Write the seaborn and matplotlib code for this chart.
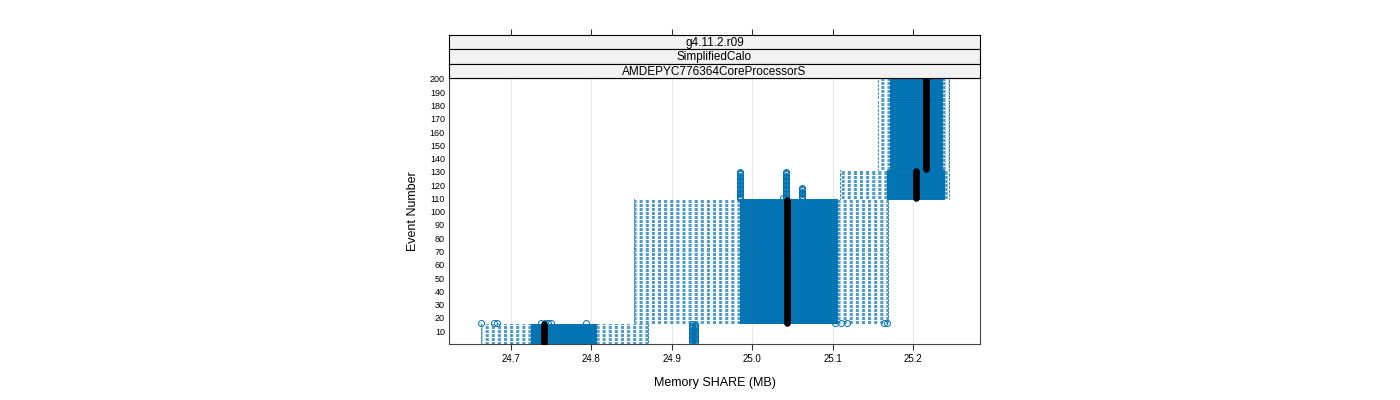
import matplotlib
matplotlib.use("Agg")
import matplotlib.pyplot as plt
import seaborn as sns

# segments of consecutive events sharing the same box summary (MB)
seg_first = [1, 16, 17, 110, 132]
seg_last = [15, 16, 109, 131, 200]
seg_whislo = [24.663, 24.853, 24.853, 25.109, 25.156]
seg_q1 = [24.725, 24.985, 24.985, 25.168, 25.171]
seg_med = [24.741, 25.043, 25.043, 25.204, 25.216]
seg_q3 = [24.806, 25.105, 25.105, 25.238, 25.236]
seg_whishi = [24.870, 25.169, 25.169, 25.245, 25.245]

# outliers for event ranges
flier_first = [1, 16, 110, 110, 110]
flier_last = [15, 16, 130, 118, 110]
flier_values = [
    [24.925, 24.9285],
    [24.663, 24.679, 24.683, 24.737, 24.742, 24.746, 24.750, 24.793,
     25.103, 25.110, 25.118, 25.164, 25.168],
    [24.985, 25.042],
    [25.062],
    [25.038],
]

x_ticks = [24.7, 24.8, 24.9, 25.0, 25.1, 25.2]
y_ticks = list(range(10, 201, 10))
strip_labels = ["g4.11.2.r09", "SimplifiedCalo", "AMDEPYC776364CoreProcessorS"]

BLUE = "#0072b2"

sns.set_style("white")
plt.rcParams["font.family"] = ["Liberation Sans", "DejaVu Sans"]
plt.rcParams["lines.scale_dashes"] = False
plt.rcParams["text.color"] = "black"
plt.rcParams["axes.labelcolor"] = "black"
plt.rcParams["xtick.color"] = "black"
plt.rcParams["ytick.color"] = "black"

# expand segments to one box per event
stats, positions, medians = [], [], []
for first, last, lo, a, m, b, hi in zip(seg_first, seg_last, seg_whislo,
                                        seg_q1, seg_med, seg_q3, seg_whishi):
    for ev in range(first, last + 1):
        fl = [v for f0, f1, vals in zip(flier_first, flier_last, flier_values)
              if f0 <= ev <= f1 for v in vals]
        stats.append(dict(whislo=lo, q1=a, med=m, q3=b, whishi=hi,
                          fliers=fl, label=str(ev)))
        positions.append(ev)
        medians.append(m)

fig = plt.figure(figsize=(14, 4), dpi=100)
ax = fig.add_axes([449 / 1400, 1 - 344 / 400, 531 / 1400, 266 / 400])

for t in x_ticks:
    ax.axvline(t, color="#e8e8e8", lw=0.8, zorder=0)

ax.bxp(stats, positions=positions, widths=0.5, capwidths=0.5,
       orientation="horizontal", manage_ticks=False,
       boxprops=dict(color=BLUE, lw=0.7),
       whiskerprops=dict(color=BLUE, lw=0.5, linestyle=(0, (2.2, 2.2))),
       capprops=dict(color=BLUE, lw=0.6),
       medianprops=dict(lw=0),
       flierprops=dict(marker="o", markerfacecolor="none",
                       markeredgecolor=BLUE, markersize=4.3,
                       markeredgewidth=0.7))

sns.scatterplot(x=medians, y=positions, color="black", s=22, linewidth=0,
                ax=ax, zorder=4, legend=False)

ax.set_xlim(24.6229, 25.2833)
ax.set_ylim(0.3, 200.7)
ax.set_xticks(x_ticks)
ax.set_xticklabels([f"{t:.1f}" for t in x_ticks], fontsize=7)
ax.set_yticks(y_ticks)
ax.set_yticklabels([str(t) for t in y_ticks], fontsize=6.5)
ax.tick_params(axis="x", direction="out", length=4.3, width=0.8,
               color="#333333", pad=3)
ax.tick_params(axis="y", length=0, pad=3)
ax.tick_params(bottom=True)
for s in ax.spines.values():
    s.set_color("#444444")
    s.set_linewidth(0.8)
ax.set_xlabel("Memory SHARE (MB)", fontsize=9, labelpad=9)
ax.set_ylabel("Event Number", fontsize=9, labelpad=8)

# strips on top, outermost label first
strip_top_px = [35, 49, 64]
strip_bot_px = [49, 64, 78]
for i, lab in enumerate(strip_labels):
    top_px, bot_px = strip_top_px[i], strip_bot_px[i]
    sax = fig.add_axes([449 / 1400, 1 - bot_px / 400, 531 / 1400,
                        (bot_px - top_px) / 400])
    sax.set_facecolor("#f2f2f2")
    sax.set_xlim(ax.get_xlim())
    sax.set_yticks([])
    for s in sax.spines.values():
        s.set_color("black")
        s.set_linewidth(0.8)
    sax.text(0.5, 0.45, lab, transform=sax.transAxes, ha="center",
             va="center", fontsize=8.5)
    if i == 0:
        sax.xaxis.tick_top()
        sax.set_xticks(x_ticks)
        sax.set_xticklabels([])
        sax.tick_params(axis="x", direction="out", length=4.3, width=0.8,
                        color="#333333")
    else:
        sax.set_xticks([])

fig.savefig("out.png", dpi=100)
